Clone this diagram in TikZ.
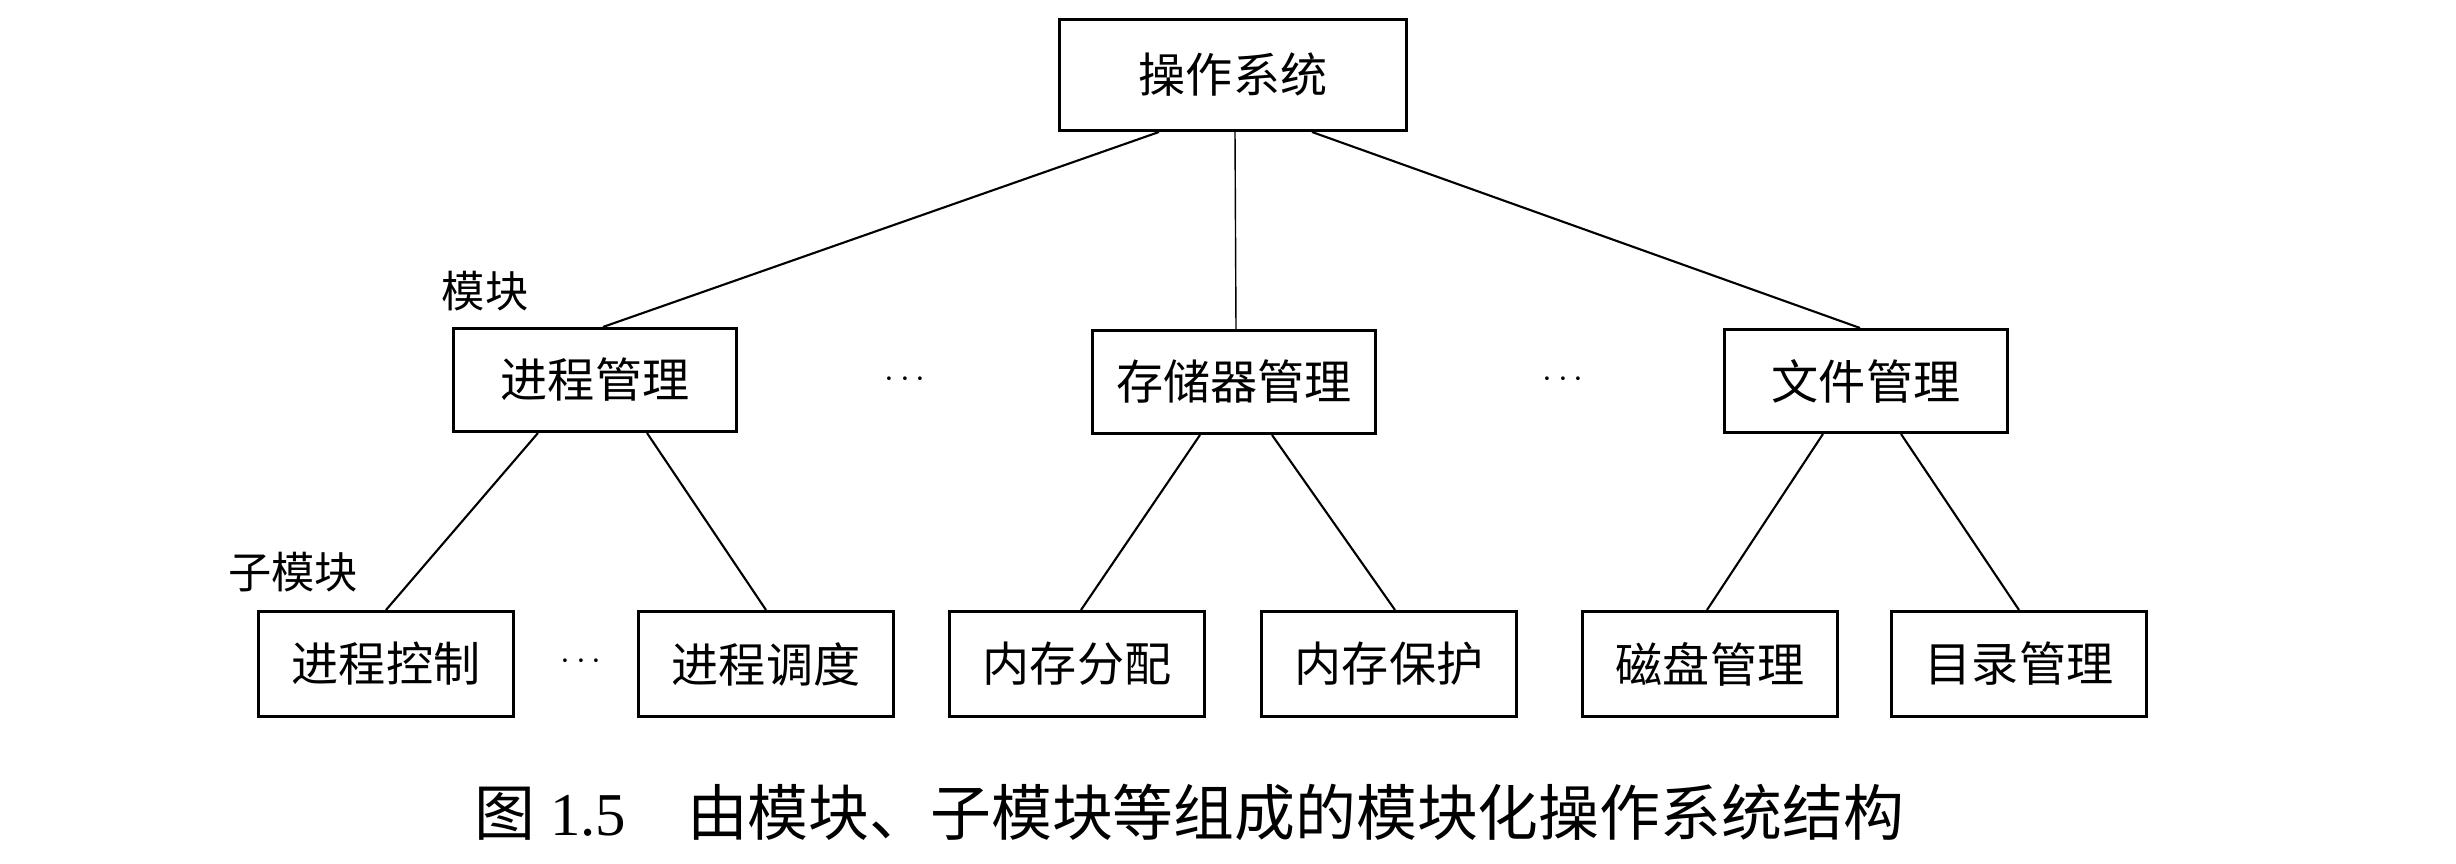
\documentclass[tikz,border=0pt]{standalone}
\usepackage{fontspec}
\setmainfont{Liberation Serif}
\newfontfamily\cjk{Noto Sans CJK SC}
\usetikzlibrary{positioning}

\begin{document}
\begin{tikzpicture}[x=0.01cm, y=-0.01cm,
    modbox/.style={draw, line width=0.85pt, inner sep=0pt, font=\cjk\fontsize{13.4}{15}\selectfont},
    topbox/.style={modbox, minimum width=3.46cm, minimum height=1.11cm},
    midbox/.style={modbox, minimum width=2.83cm, minimum height=1.03cm},
    subbox/.style={modbox, minimum width=2.54cm, minimum height=1.05cm},
    link/.style={line width=0.6pt},
    tag/.style={font=\cjk\fontsize{12.3}{14}\selectfont},
    dots/.style={font=\fontsize{10}{12}\selectfont}]
    \useasboundingbox (0,0) rectangle (2456,864);
    % --- top level ---
    \node[topbox] (os) at (1233,75) {操作系统};
    % --- modules ---
    \node[midbox] (proc) at (595,380) {进程管理};
    \node[midbox] (mem) at (1234,382) {存储器管理};
    \node[midbox] (file) at (1866,381) {文件管理};
    \node[tag] (modtag) at (485,291) {模块};
    \node[dots] (dotsa) at (905,380) {$\cdots$};
    \node[dots] (dotsb) at (1563,380) {$\cdots$};
    % --- sub-modules ---
    \node[subbox] (pctl) at (386,664) {进程控制};
    \node[subbox] (psch) at (766,664) {进程调度};
    \node[subbox] (malloc) at (1077,664) {内存分配};
    \node[subbox] (mprot) at (1389,664) {内存保护};
    \node[subbox] (disk) at (1710,664) {磁盘管理};
    \node[subbox] (dir) at (2019,664) {目录管理};
    \node[tag] (subtag) at (293,572) {子模块};
    \node[dots] (dotsc) at (581,662) {$\cdots$};
    % links top -> modules
    \draw[link] ([xshift=-0.74cm]os.south) -- ([xshift=0.08cm]proc.north);
    \draw[line width=0.4pt] ([xshift=0.02cm]os.south) -- ([xshift=0.02cm]mem.north);
    \draw[link] ([xshift=0.79cm]os.south) -- ([xshift=-0.06cm]file.north);
    % links modules -> sub-modules
    \draw[link] ([xshift=-0.57cm]proc.south) -- (pctl.north);
    \draw[link] ([xshift=0.52cm]proc.south) -- (psch.north);
    \draw[link] ([xshift=-0.34cm]mem.south) -- ([xshift=0.04cm]malloc.north);
    \draw[link] ([xshift=0.38cm]mem.south) -- ([xshift=0.06cm]mprot.north);
    \draw[link] ([xshift=-0.43cm]file.south) -- ([xshift=-0.03cm]disk.north);
    \draw[link] ([xshift=0.35cm]file.south) -- (dir.north);
    % caption
    \node[font=\fontsize{17.3}{20}\selectfont] (caption) at (1189,812)
        {{\cjk 图}\ 1.5\hspace{1em}{\cjk 由模块、子模块等组成的模块化操作系统结构}};
\end{tikzpicture}
\end{document}
